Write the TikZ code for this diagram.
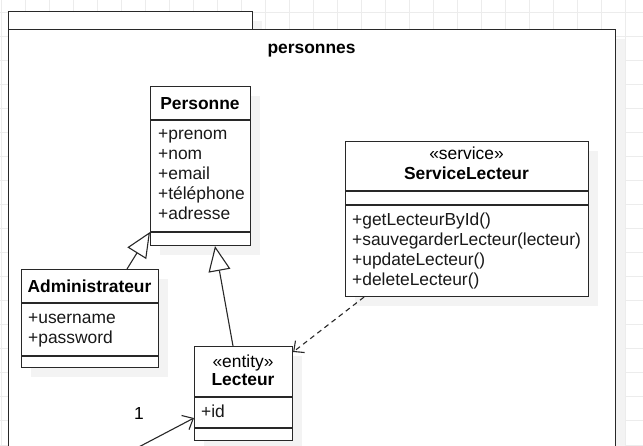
\documentclass[tikz,border=0pt]{standalone}
\usepackage{fontspec}
\setmainfont{Liberation Sans}
\usetikzlibrary{arrows.meta,shadows}

\definecolor{gridgray}{RGB}{236,236,236}
\definecolor{shadowgray}{RGB}{243,243,243}
\definecolor{linegray}{RGB}{40,40,40}

\tikzset{
  umlbox/.style={draw=linegray, fill=white, line width=1.1pt, anchor=north west, inner sep=0pt,
    drop shadow={shadow xshift=9pt, shadow yshift=-9pt, fill=shadowgray, opacity=1}},
  sepline/.style={draw=linegray, line width=1.1pt},
  member/.style={anchor=west, inner sep=0pt, text height=16.5pt, text depth=3.6pt, text=black!90},
  classname/.style={inner sep=0pt, text height=16.5pt, text depth=3.6pt, font=\fontsize{17.4pt}{20pt}\selectfont\bfseries},
  stereo/.style={inner sep=0pt, text height=16.5pt, text depth=3.6pt},
  inherits/.style={draw=linegray, line width=1.1pt, -{Triangle[length=25pt,width=22pt,fill=white]}},
  depends/.style={draw=linegray, line width=1.1pt, dash pattern=on 5pt off 4pt, -{Straight Barb[length=8pt,width=15pt]}},
  assoc/.style={draw=linegray, line width=1.1pt, -{Straight Barb[length=9pt,width=16pt]}}
}

\begin{document}
\begin{tikzpicture}[x=1pt, y=-1pt, font=\fontsize{17.4pt}{20pt}\selectfont]
  \useasboundingbox (0,0) rectangle (643,446);
  \clip (0,0) rectangle (643,446);

  % background grid
  \foreach \gx in {1,25,...,649} \draw[gridgray, line width=1pt] (\gx,0) -- (\gx,446);
  \foreach \gy in {13,37,...,446} \draw[gridgray, line width=1pt] (0,\gy) -- (643,\gy);

  % package
  \node[umlbox, minimum width=244pt, minimum height=18pt] (tab) at (8,11) {};
  \node[umlbox, minimum width=607pt, minimum height=440pt] (pkg) at (8,29) {};
  \node[classname] (pkgname) at (311.5,47) {personnes};

  % Personne
  \node[umlbox, minimum width=100pt, minimum height=159pt] (pers) at (150,86) {};
  \node[classname] (persname) at (200,103) {Personne};
  \draw[sepline] (pers.west |- 0,120) -- (pers.east |- 0,120);
  \node[member] (prenom) at (158,133) {+prenom};
  \node[member] (nom) at (158,153) {+nom};
  \node[member] (email) at (158,173) {+email};
  \node[member] (tel) at (158,193) {+téléphone};
  \node[member] (adresse) at (158,213) {+adresse};
  \draw[sepline] (pers.west |- 0,232) -- (pers.east |- 0,232);

  % Administrateur
  \node[umlbox, minimum width=137pt, minimum height=98pt] (admin) at (21,269) {};
  \node[classname] (adminname) at (89.5,286) {Administrateur};
  \draw[sepline] (admin.west |- 0,303) -- (admin.east |- 0,303);
  \node[member] (username) at (28,317) {+username};
  \node[member] (password) at (28,337) {+password};
  \draw[sepline] (admin.west |- 0,356) -- (admin.east |- 0,356);

  % ServiceLecteur
  \node[umlbox, minimum width=243pt, minimum height=155pt] (svc) at (345,141) {};
  \node[stereo] (svcstereo) at (466.5,153) {«service»};
  \node[classname] (svcname) at (466.5,173) {ServiceLecteur};
  \draw[sepline] (svc.west |- 0,191) -- (svc.east |- 0,191);
  \draw[sepline] (svc.west |- 0,205) -- (svc.east |- 0,205);
  \node[member] (getid) at (352,219) {+getLecteurById()};
  \node[member] (save) at (352,239) {+sauvegarderLecteur(lecteur)};
  \node[member] (update) at (352,259) {+updateLecteur()};
  \node[member] (delete) at (352,279) {+deleteLecteur()};

  % Lecteur
  \node[umlbox, minimum width=98pt, minimum height=94pt] (lect) at (194,346) {};
  \node[stereo] (lectstereo) at (243,361) {«entity»};
  \node[classname] (lectname) at (243,379) {Lecteur};
  \draw[sepline] (lect.west |- 0,397) -- (lect.east |- 0,397);
  \node[member] (id) at (201,411) {+id};
  \draw[sepline] (lect.west |- 0,428) -- (lect.east |- 0,428);

  % relations
  \draw[inherits] (admin.north -| 127,0) -- (pers.west |- 0,232);
  \draw[inherits] (lect.north -| 233,0) -- (pers.south -| 215,0);
  \draw[depends] (svc.south -| 364,0) -- (lect.east |- 0,352);
  \coordinate (assocfrom) at (114,460);
  \draw[assoc] (assocfrom) -- (lect.west |- 0,418);
  \node[inner sep=0pt, text height=16.5pt, text depth=3.6pt] (mult) at (139,413) {1};
\end{tikzpicture}
\end{document}
